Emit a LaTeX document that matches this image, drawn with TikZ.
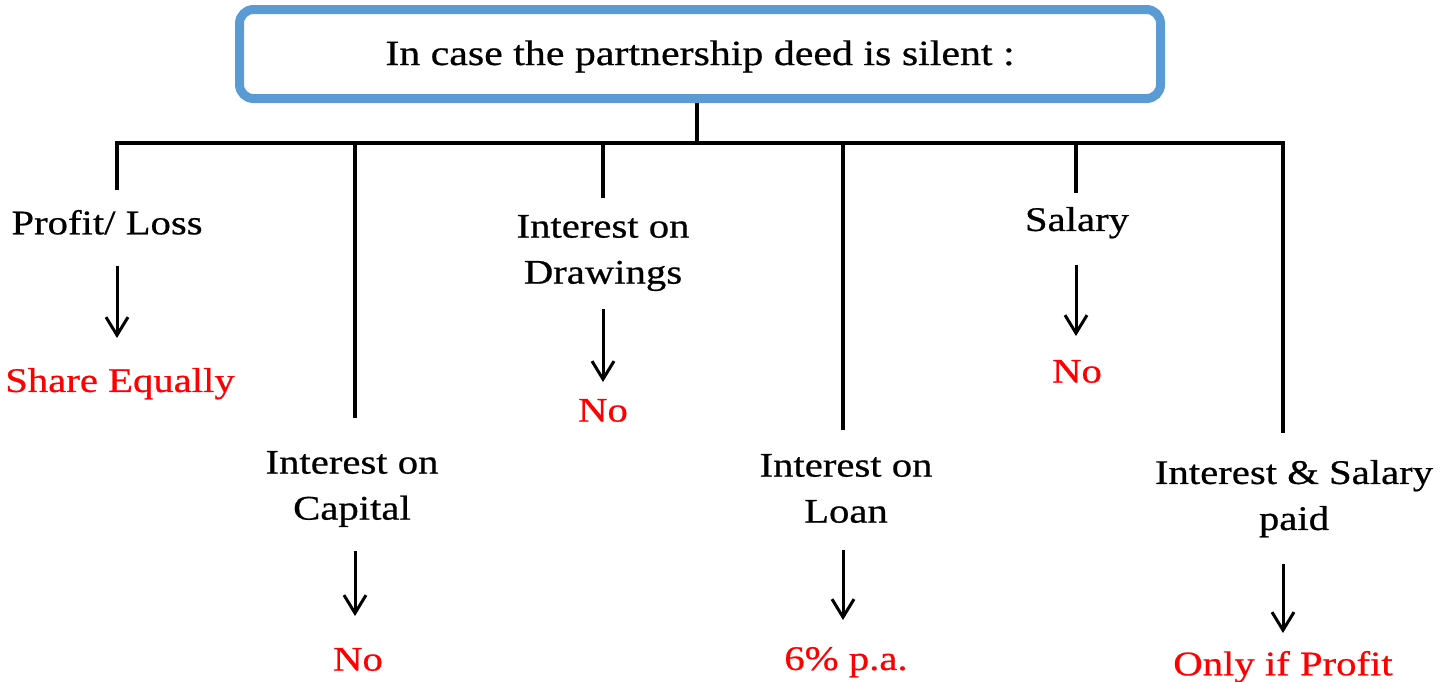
\documentclass[tikz,border=0pt]{standalone}
\usepackage{fontspec}
\setmainfont{Liberation Serif}[FakeStretch=1.18,FakeBold=0.6]
\usetikzlibrary{arrows.meta}
\definecolor{deedblue}{HTML}{5B9BD5}
\definecolor{answerred}{HTML}{FF0000}
\begin{document}
\begin{tikzpicture}[x=1pt,y=-1pt,
  every node/.style={inner sep=0pt, outer sep=0pt},
  item/.style={anchor=north, align=center, text=black, font=\fontsize{34.5}{46}\selectfont},
  answer/.style={anchor=north, text=answerred, font=\fontsize{34.5}{46}\selectfont},
  branch/.style={line width=4pt},
  result/.style={line width=3pt, -{Straight Barb[length=18pt,width=22pt]}},
]
\useasboundingbox (0,0) rectangle (1450,681);

% heading box
\node[draw=deedblue, line width=9pt, outer sep=4.5pt, rounded corners=14pt,
      minimum width=921pt, minimum height=89pt, text height=26pt, text depth=4pt,
      font=\fontsize{35.5}{42}\selectfont] (deed) at (700,54)
  {In case the partnership deed is silent :};

% branch points on the bar
\coordinate (hub) at (697,143);
\coordinate (b1) at (117,143);
\coordinate (b2) at (355,143);
\coordinate (b3) at (603,143);
\coordinate (b4) at (843,143);
\coordinate (b5) at (1076,143);
\coordinate (b6) at (1283,143);
% lower ends of the drops
\coordinate (e1) at (117,190);
\coordinate (e2) at (355,418);
\coordinate (e3) at (603,198);
\coordinate (e4) at (843,430);
\coordinate (e5) at (1076,193);
\coordinate (e6) at (1283,433);

% headings of the six cases
\node[item] (pl)  at (107,210)  {Profit/ Loss};
\node[item] (ic)  at (352,451)  {Interest on\\Capital};
\node[item] (id)  at (603,215)  {Interest on\\Drawings};
\node[item] (il)  at (846,454)  {Interest on\\Loan};
\node[item] (sal) at (1077,207) {Salary};
\node[item] (is)  at (1294,460) {Interest \& Salary\\paid};

% what the law provides
\node[answer] (se)  at (120,368)  {Share Equally};
\node[answer] (no2) at (358,648)  {No};
\node[answer] (no3) at (603,399)  {No};
\node[answer] (pa)  at (846,647)  {6\% p.a.};
\node[answer] (no5) at (1077,360) {No};
\node[answer] (op)  at (1283,651) {Only if Profit};

% tree
\draw[branch] (deed.south -| hub) -- (hub);
\draw[branch] (e1) -- (b1) -- (b6) -- (e6);
\draw[branch] (b2) -- (e2);
\draw[branch] (b3) -- (e3);
\draw[branch] (b4) -- (e4);
\draw[branch] (b5) -- (e5);

% arrows to the answers
\draw[result, shorten <=31pt, shorten >=30pt] (pl.south -| b1) -- (se.north -| b1);
\draw[result, shorten <=24pt, shorten >=32pt] (ic.south -| b2) -- (no2.north -| b2);
\draw[result, shorten <=18pt, shorten >=17pt] (id.south -| b3) -- (no3.north -| b3);
\draw[result, shorten <=27pt, shorten >=27pt] (il.south -| b4) -- (pa.north -| b4);
\draw[result, shorten <=27pt, shorten >=24pt] (sal.south -| b5) -- (no5.north -| b5);
\draw[result, shorten <=27pt, shorten >=18pt] (is.south -| b6) -- (op.north -| b6);
\end{tikzpicture}
\end{document}
